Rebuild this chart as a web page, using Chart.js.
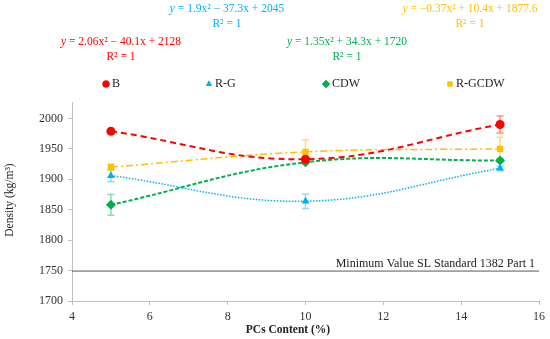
<!DOCTYPE html>
<html><head><meta charset="utf-8">
<script src="https://cdn.jsdelivr.net/npm/chart.js@4"></script>
<style>html,body{margin:0;padding:0;background:#fff}#wrap{width:550px;height:339px}</style>
</head><body><div id="wrap"><canvas id="c"></canvas></div>
<script>
const pcContent = [5, 10, 15];
const seriesLabels = ['B', 'R-G', 'CDW', 'R-GCDW'];
const densityB = [1979, 1933, 1990];
const densityRG = [1906, 1864, 1918];
const densityCDW = [1858, 1928, 1931];
const densityRGCDW = [1920, 1945, 1950];
const errB = [2, 2, 14];
const errRG = [10, 12, 4];
const errCDW = [17, 3, 3];
const errRGCDW = [5, 20, 19];
const equations = [
  'y = 2.06x² − 40.1x + 2128',
  'y = 1.9x² − 37.3x + 2045',
  'y = 1.35x² + 34.3x + 1720',
  'y = −0.37x² + 10.4x + 1877.6'
];
const rSquared = ['R² = 1', 'R² = 1', 'R² = 1', 'R² = 1'];
const minStandardValue = 1750;
const minStandardLabel = 'Minimum Value SL Standard 1382 Part 1';
const yTicks = [1700, 1750, 1800, 1850, 1900, 1950, 2000];
const xTicks = [4, 6, 8, 10, 12, 14, 16];
const xTitle = 'PCs Content (%)';
const yTitle = 'Density (kg/m³)';

const colors = ['#FF0000', '#00B0F0', '#00B050', '#FFC000'];
const errColors = ['rgba(255,0,0,0.45)', 'rgba(0,176,240,0.45)', 'rgba(0,176,80,0.45)', 'rgba(255,192,0,0.55)'];
const styles = ['circle', 'triangle', 'rectRot', 'rect'];
const dashes = [[6, 4], [1.5, 1.5], [4, 2], [7, 3, 2, 3]];
const widths = [2, 1.5, 2, 1.5];
const values = [densityB, densityRG, densityCDW, densityRGCDW];
const errs = [errB, errRG, errCDW, errRGCDW];
const FONT = '"Liberation Serif", "Times New Roman", serif';

const datasets = seriesLabels.map((lab, i) => ({
  label: lab,
  data: pcContent.map((x, j) => ({ x: x, y: values[i][j] })),
  errors: errs[i],
  borderColor: colors[i],
  backgroundColor: colors[i],
  borderWidth: widths[i],
  borderDash: dashes[i],
  pointStyle: styles[i],
  pointRadius: i === 2 ? 5 : 4.5,
  pointBorderWidth: 0,
  pointBackgroundColor: colors[i],
  tension: 0.4,
  fill: false
}));

const errorBarPlugin = {
  id: 'errbars',
  beforeDatasetsDraw(chart) {
    const ctx = chart.ctx, xs = chart.scales.x, ys = chart.scales.y;
    chart.data.datasets.forEach((ds, i) => {
      ctx.save();
      ctx.strokeStyle = errColors[i];
      ctx.lineWidth = 1.5;
      ds.data.forEach((p, j) => {
        const e = ds.errors[j];
        const px = xs.getPixelForValue(p.x);
        const top = ys.getPixelForValue(p.y + e), bot = ys.getPixelForValue(p.y - e);
        ctx.beginPath();
        ctx.moveTo(px, top); ctx.lineTo(px, bot);
        ctx.moveTo(px - 3.5, top); ctx.lineTo(px + 3.5, top);
        ctx.moveTo(px - 3.5, bot); ctx.lineTo(px + 3.5, bot);
        ctx.stroke();
      });
      ctx.restore();
    });
  }
};

const refLinePlugin = {
  id: 'refline',
  afterDatasetsDraw(chart) {
    const ctx = chart.ctx, a = chart.chartArea, ys = chart.scales.y;
    const y = ys.getPixelForValue(minStandardValue);
    ctx.save();
    ctx.strokeStyle = '#595959';
    ctx.lineWidth = 1;
    ctx.beginPath(); ctx.moveTo(a.left, y + 0.5); ctx.lineTo(a.right, y + 0.5); ctx.stroke();
    ctx.fillStyle = '#222';
    ctx.font = '12px ' + FONT;
    ctx.textAlign = 'right';
    ctx.textBaseline = 'alphabetic';
    ctx.fillText(minStandardLabel, a.right - 4, y - 4);
    ctx.restore();
  }
};

function drawEq(ctx, text, cx, y, color) {
  ctx.font = 'italic 11.5px ' + FONT;
  const w1 = ctx.measureText('y').width;
  ctx.font = '11.5px ' + FONT;
  const rest = text.slice(1);
  const w2 = ctx.measureText(rest).width;
  const x0 = cx - (w1 + w2) / 2;
  ctx.fillStyle = color;
  ctx.textAlign = 'left';
  ctx.font = 'italic 11.5px ' + FONT;
  ctx.fillText('y', x0, y);
  ctx.font = '11.5px ' + FONT;
  ctx.fillText(rest, x0 + w1, y);
}

const annotPlugin = {
  id: 'annots',
  afterDraw(chart) {
    const ctx = chart.ctx;
    ctx.save();
    ctx.textBaseline = 'middle';
    const pos = [[121, 42], [227, 9], [347, 42], [470, 9]];
    equations.forEach((eq, i) => {
      drawEq(ctx, eq, pos[i][0], pos[i][1], colors[i]);
      ctx.font = '11.5px ' + FONT;
      ctx.textAlign = 'center';
      ctx.fillText(rSquared[i], pos[i][0], pos[i][1] + 15);
    });
    // legend
    const lx = [106, 209, 326, 450];
    const ly = 84;
    chart.data.datasets.forEach((ds, i) => {
      ctx.fillStyle = colors[i];
      ctx.strokeStyle = colors[i];
      Chart.helpers.drawPoint(ctx, { pointStyle: styles[i], radius: i === 2 ? 4 : 3.5, borderWidth: 0, rotation: 0 }, lx[i], ly);
      ctx.fill();
      ctx.fillStyle = '#222';
      ctx.font = '12px ' + FONT;
      ctx.textAlign = 'left';
      ctx.fillText(ds.label, lx[i] + 6, ly);
    });
    // axis titles
    ctx.fillStyle = '#222';
    ctx.font = 'bold 11.5px ' + FONT;
    ctx.textAlign = 'center';
    ctx.fillText(xTitle, 288, 330);
    ctx.save();
    ctx.translate(10, 200);
    ctx.rotate(-Math.PI / 2);
    ctx.font = '11.5px ' + FONT;
    ctx.fillText(yTitle, 0, 0);
    ctx.restore();
    ctx.restore();
  }
};

new Chart(document.getElementById('c'), {
  type: 'line',
  data: { datasets },
  plugins: [errorBarPlugin, refLinePlugin, annotPlugin],
  options: {
    responsive: true,
    maintainAspectRatio: false,
    animation: false,
    layout: { padding: { top: 102, right: 8, left: 0, bottom: 0 } },
    plugins: { legend: { display: false }, tooltip: { enabled: false } },
    scales: {
      x: {
        type: 'linear', min: 4, max: 16,
        afterBuildTicks: (s) => { s.ticks = xTicks.map(v => ({ value: v })); },
        afterFit: (s) => { s.height = 38; },
        grid: { drawOnChartArea: false, drawTicks: true, tickLength: 4, color: '#BFBFBF' },
        border: { display: true, color: '#BFBFBF', width: 1 },
        ticks: { color: '#333', font: { family: FONT, size: 12 }, padding: 5, maxRotation: 0, callback: (v) => String(v) }
      },
      y: {
        type: 'linear', min: 1700, max: 2027,
        afterBuildTicks: (s) => { s.ticks = yTicks.map(v => ({ value: v })); },
        afterFit: (s) => { s.width = 72; },
        grid: { drawOnChartArea: false, drawTicks: true, tickLength: 4, color: '#BFBFBF' },
        border: { display: true, color: '#BFBFBF', width: 1 },
        ticks: { color: '#333', font: { family: FONT, size: 12 }, padding: 5, callback: (v) => String(v) }
      }
    }
  }
});
</script>
</body></html>
